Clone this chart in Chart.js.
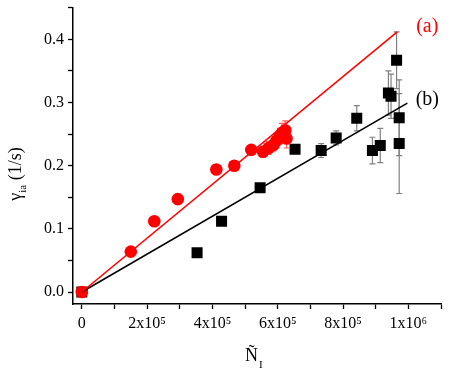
<!DOCTYPE html>
<html>
<head>
<meta charset="utf-8">
<script src="https://cdn.jsdelivr.net/npm/chart.js@4.4.0/dist/chart.umd.min.js"></script>
<style>
  body { margin: 0; background: #fff; }
  canvas { display: block; }
</style>
</head>
<body>
<canvas id="myChart" width="450" height="374"></canvas>
<script>
// данные (a) -- красные кружки
const redX = [0, 150000, 222000, 294000, 412000, 467000, 519000, 555000, 572000, 587000, 597000, 607000, 613000, 623000, 627000]
const redY = [0, 0.064, 0.112, 0.147, 0.194, 0.200, 0.225, 0.222, 0.228, 0.233, 0.240, 0.247, 0.252, 0.256, 0.243]
const redErr = [0, 0, 0, 0, 0, 0, 0, 0.008, 0.010, 0.010, 0.012, 0.012, 0.015, 0.015, 0.015]

// данные (b) -- черные квадраты
const blackX = [0, 353000, 428000, 546000, 653000, 733000, 779000, 842000, 890000, 914000, 939000, 947000, 964000, 972000, 972000]
const blackY = [0, 0.062, 0.112, 0.165, 0.226, 0.224, 0.244, 0.275, 0.224, 0.232, 0.315, 0.310, 0.367, 0.276, 0.235]
const blackErr = [0.007, 0, 0, 0, 0, 0.011, 0.011, 0.020, 0.021, 0.027, 0.035, 0.035, 0.045, 0.060, 0.079]

// прямые (подгонка)
const fitAX = [0, 966000]
const fitAY = [0, 0.412]
const fitBX = [0, 997000]
const fitBY = [0, 0.299]

// деления и подписи
const xTicks = [0, 100000, 200000, 300000, 400000, 500000, 600000, 700000, 800000, 900000, 1000000, 1100000]
const xTickValues = [0, 200000, 400000, 600000, 800000, 1000000]
const xTickLabels = ['0', '2x10\u2075', '4x10\u2075', '6x10\u2075', '8x10\u2075', '1x10\u2076']
const yTicks = [0, 0.05, 0.1, 0.15, 0.2, 0.25, 0.3, 0.35, 0.4, 0.45]
const yTickValues = [0, 0.1, 0.2, 0.3, 0.4]
const yTickLabels = ['0.0', '0.1', '0.2', '0.3', '0.4']

const serif = 'Liberation Serif'

function toPoints(xs, ys) {
    return xs.map((v, i) => ({x: v, y: ys[i]}))
}

function drawErr(ctx, sx, sy, xs, ys, errs, color) {
    ctx.save()
    ctx.strokeStyle = color
    ctx.lineWidth = 1.2
    for (let i = 0; i < xs.length; i++) {
        if (!errs[i]) continue
        let px = sx.getPixelForValue(xs[i])
        let top = sy.getPixelForValue(ys[i] + errs[i])
        let bot = sy.getPixelForValue(ys[i] - errs[i])
        ctx.beginPath()
        ctx.moveTo(px, top); ctx.lineTo(px, bot)
        ctx.moveTo(px - 3, top); ctx.lineTo(px + 3, top)
        ctx.moveTo(px - 3, bot); ctx.lineTo(px + 3, bot)
        ctx.stroke()
    }
    ctx.restore()
}

const errorBars = {
    id: 'errorBars',
    beforeDatasetsDraw(chart) {
        let {ctx, scales: {x, y}} = chart
        drawErr(ctx, x, y, blackX, blackY, blackErr, '#808080')
        drawErr(ctx, x, y, redX, redY, redErr, '#ff5a5a')
    }
}

// подписи осей и (a), (b)
const titles = {
    id: 'titles',
    afterDraw(chart) {
        let {ctx, scales: {x, y}} = chart
        ctx.save()
        ctx.textBaseline = 'alphabetic'
        // (a) и (b)
        ctx.font = '20px "Liberation Serif"'
        ctx.textAlign = 'center'
        ctx.fillStyle = '#ff0000'
        ctx.fillText('(a)', x.getPixelForValue(1058000), y.getPixelForValue(0.423) + 7)
        ctx.fillStyle = '#000'
        ctx.fillText('(b)', x.getPixelForValue(1058000), y.getPixelForValue(0.3066) + 7)

        // ось X: N с тильдой и индекс I
        ctx.textAlign = 'left'
        ctx.font = '18px "Liberation Serif"'
        ctx.fillText('\u00D1', 245, 361)
        ctx.font = '11px "Liberation Serif"'
        ctx.fillText('I', 259, 368)

        // ось Y: гамма_ia (1/s)
        ctx.translate(21, 174)
        ctx.rotate(-Math.PI / 2)
        ctx.font = '18px "Liberation Serif"'
        let w1 = ctx.measureText('\u03B3').width
        ctx.font = '11px "Liberation Serif"'
        let w2 = ctx.measureText('ia').width
        ctx.font = '18px "Liberation Serif"'
        let w3 = ctx.measureText(' (1/s)').width
        let start = -(w1 + w2 + w3) / 2
        ctx.fillText('\u03B3', start, 0)
        ctx.font = '11px "Liberation Serif"'
        ctx.fillText('ia', start + w1, 5)
        ctx.font = '18px "Liberation Serif"'
        ctx.fillText(' (1/s)', start + w1 + w2, 0)
        ctx.restore()
    }
}

let ctx = document.getElementById('myChart').getContext('2d')
let chart = new Chart(ctx, {
    type: 'scatter',
    data: {
        datasets: [
            {
                type: 'line',
                data: toPoints(fitAX, fitAY),
                borderColor: '#ff0000',
                borderWidth: 1.6,
                pointRadius: 0,
                fill: false
            },
            {
                type: 'line',
                data: toPoints(fitBX, fitBY),
                borderColor: '#000000',
                borderWidth: 1.6,
                pointRadius: 0,
                fill: false
            },
            {
                data: toPoints(redX, redY),
                pointStyle: 'circle',
                pointRadius: 6.3,
                backgroundColor: '#ff0000',
                borderColor: '#ff0000',
                borderWidth: 0
            },
            {
                data: toPoints(blackX, blackY),
                pointStyle: 'rect',
                pointRadius: 7.8,
                backgroundColor: '#000000',
                borderColor: '#000000',
                borderWidth: 0
            }
        ]
    },
    options: {
        responsive: false,
        animation: false,
        devicePixelRatio: 1,
        layout: { padding: { top: 5, right: 9, left: 0, bottom: 0 } },
        plugins: {
            legend: { display: false },
            tooltip: { enabled: false }
        },
        scales: {
            x: {
                type: 'linear',
                min: -27000,
                max: 1100000,
                afterBuildTicks: (s) => { s.ticks = xTicks.map(v => ({value: v})) },
                afterFit: (s) => {
                    s.height = 70
                    s.paddingLeft = 0
                    s.paddingRight = 0
                },
                ticks: {
                    autoSkip: false,
                    maxRotation: 0,
                    padding: 5,
                    color: '#000',
                    font: { family: serif, size: 16 },
                    callback: (v) => {
                        let i = xTickValues.indexOf(Math.round(v))
                        return i >= 0 ? xTickLabels[i] : ''
                    }
                },
                grid: { drawOnChartArea: false, color: '#000', tickLength: 5, tickWidth: 1.3 },
                border: { color: '#000', width: 1.5 }
            },
            y: {
                min: -0.019,
                max: 0.45,
                afterBuildTicks: (s) => { s.ticks = yTicks.map(v => ({value: v})) },
                afterFit: (s) => {
                    s.width = 73
                    s.paddingTop = 0
                    s.paddingBottom = 0
                },
                ticks: {
                    autoSkip: false,
                    padding: 4,
                    color: '#000',
                    font: { family: serif, size: 16 },
                    callback: (v) => {
                        let i = yTickValues.findIndex(t => Math.abs(t - v) < 1e-6)
                        return i >= 0 ? yTickLabels[i] : ''
                    }
                },
                grid: { drawOnChartArea: false, color: '#000', tickLength: 5, tickWidth: 1.3 },
                border: { color: '#000', width: 1.5 }
            }
        }
    },
    plugins: [errorBars, titles]
})
</script>
</body>
</html>
